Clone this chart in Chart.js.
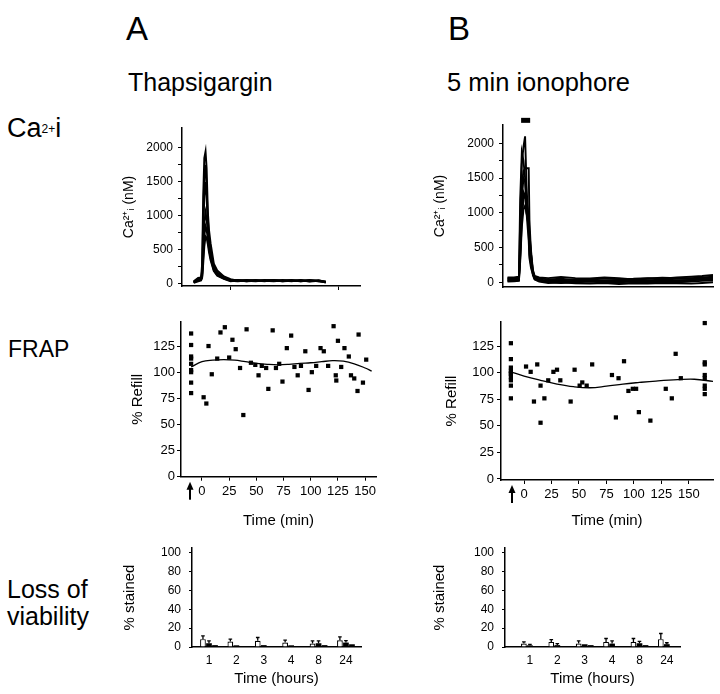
<!DOCTYPE html>
<html>
<head>
<meta charset="utf-8">
<script src="https://cdn.jsdelivr.net/npm/chart.js@4.4.1/dist/chart.umd.min.js"></script>
<style>
  body { margin: 0; background: #fff; width: 720px; height: 694px; position: relative; overflow: hidden;
         font-family: "Liberation Sans", Arial, Helvetica, sans-serif; color: #000; }
  .t { position: absolute; white-space: nowrap; line-height: 1; }
  canvas { position: absolute; }
</style>
</head>
<body>
<div class="t" style="left:126px;top:12px;font-size:33px">A</div>
<div class="t" style="left:448px;top:12px;font-size:33px">B</div>
<div class="t" style="left:128px;top:70px;font-size:25px">Thapsigargin</div>
<div class="t" style="left:447px;top:70px;font-size:25.5px">5 min ionophore</div>

<div class="t" style="left:7px;top:115px;font-size:27px">Ca<span style="font-size:12px;vertical-align:4px">2+</span>i</div>
<div class="t" style="left:8px;top:338px;font-size:23px">FRAP</div>
<div class="t" style="left:7px;top:576px;font-size:25px;line-height:27px">Loss of<br>viability</div>

<canvas id="caA" width="270" height="200" style="left:100px;top:118px"></canvas>
<canvas id="caB" width="310" height="200" style="left:410px;top:115px"></canvas>
<canvas id="frapA" width="290" height="222" style="left:100px;top:312px"></canvas>
<canvas id="frapB" width="310" height="222" style="left:410px;top:312px"></canvas>
<canvas id="viaA" width="270" height="152" style="left:100px;top:540px"></canvas>
<canvas id="viaB" width="280" height="152" style="left:410px;top:540px"></canvas>

<script>
// ── Data ─────────────────────────────────────────────────────────────────────

// Ca2+i traces (nM) vs time (min). A: thapsigargin, B: 5 min ionophore.
const caTimesA = [-20.5, -18, -16.4, -15.8, -15.2, -14.6, -13.9, -13.3, -12.6, -12, -11.1, -9.3, -7.4,
                  -3.7, 0, 4, 9, 14, 19, 24, 29, 34, 39, 44, 49, 53];
const caA1 = [20, 80, 85, 300, 1300, 1850, 1950, 1700, 1050, 800, 600, 300, 200, 110, 70, 50, 60, 45, 60, 50, 40, 55, 45, 60, 40, 35];
const caA2 = [30, 70, 80, 200, 1000, 1600, 1750, 1400, 950, 700, 500, 260, 170, 100, 60, 55, 40, 60, 45, 55, 50, 40, 60, 45, 50, 30];
const caA3 = [40, 90, 95, 150, 700, 1300, 1500, 1250, 850, 650, 470, 240, 160, 90, 55, 45, 55, 50, 40, 60, 45, 50, 40, 55, 45, 35];
const caA4 = [25, 60, 70, 120, 500, 900, 1050, 950, 750, 580, 420, 220, 140, 85, 50, 60, 45, 40, 55, 45, 60, 45, 50, 40, 55, 30];
const caA5 = [30, 50, 60, 100, 400, 700, 850, 800, 650, 520, 380, 200, 130, 80, 45, 40, 50, 55, 45, 40, 50, 60, 40, 50, 40, 25];
const caA6 = [15, 40, 50, 90, 300, 550, 700, 680, 580, 470, 350, 190, 120, 75, 40, 50, 40, 45, 50, 55, 40, 45, 55, 35, 45, 20];
const caTickTimesA = [0, 60];

const caTimesB = [-7.5, -4, -1.2, -0.5, 0.4, 1.3, 2.2, 3, 4.2, 4.6, 5.5, 6.5, 7.5, 10, 15, 22, 30, 38, 46,
                  54, 62, 70, 78, 86, 94, 100, 106];
const caB1 = [60, 60, 70, 900, 1700, 1950, 2100, 1400, 700, 400, 250, 150, 80, 60, 40, 50, 30, 40, 55, 45, 50, 60, 50, 70, 80, 90, 105];
const caB2 = [50, 50, 60, 1200, 1870, 1750, 1500, 1000, 600, 350, 200, 120, 70, 40, 20, 30, 40, 30, 20, 35, 30, 25, 40, 50, 60, 70, 80];
const caB3 = [40, 40, 50, 600, 1400, 1600, 1640, 1640, 1640, 900, 400, 150, 60, 30, 10, 20, 5, 15, 10, 20, 0, 10, 20, 15, 30, 40, 50];
const caB4 = [30, 30, 40, 500, 1200, 1500, 1450, 1200, 900, 600, 350, 120, 50, 20, 0, -10, 0, 10, -5, 0, 10, -5, 5, 0, 10, 20, 30];
const caB5 = [20, 25, 30, 400, 1000, 1300, 1250, 1000, 800, 500, 300, 100, 40, 10, -10, 0, -15, -20, -10, -25, -15, -20, -10, -15, -20, -10, 0];
const caB6 = [70, 70, 80, 350, 900, 1200, 1250, 1150, 950, 700, 450, 180, 90, 70, 60, 75, 60, 55, 70, 60, 40, 55, 65, 60, 50, 60, 65];
const caB7 = [10, 15, 20, 300, 800, 1050, 1100, 1000, 850, 650, 400, 160, 50, 20, 30, 10, 20, 30, 25, 30, 40, 30, 20, 30, 35, 40, 45];
const ionophoreTimes = [0, 5];
const ionophoreLevel = 2330;

const caTicks = [0, 250, 500, 750, 1000, 1250, 1500, 1750, 2000];

// FRAP % refill vs time (min); the arrow marks the photobleach.
const frapTimesA = [-10, -10, -10, -10, -10, -10, -10, -10, -10,
  1.5, 4, 6, 9, 14, 17, 21, 25, 28, 31, 35, 38, 41, 45, 49, 52, 55, 59, 61, 65, 68, 71, 74, 78, 82, 85,
  88, 91, 95, 98, 101, 105, 109, 112, 116, 121, 123, 123.5, 125, 128, 131, 135, 137, 140, 143, 144, 148, 151];
const frapRefillA = [137, 126, 115, 113, 108, 102, 100, 90, 80,
  76, 70, 125, 98, 113, 138, 143, 114, 131, 122, 104, 59, 141, 109, 107, 97, 106, 104, 84, 140, 104,
  108, 91, 123, 135, 105, 97, 106, 120, 83, 100, 106, 123, 120, 106, 144, 97, 92, 130, 105, 123, 115,
  97, 94, 82, 136, 90, 112];
const fitTimesA = [-10, 0, 10, 20, 30, 40, 50, 60, 70, 80, 90, 100, 110, 120, 130, 140, 150, 156];
const fitA = [105, 110, 111.5, 112, 111.5, 110, 108.5, 107.5, 107, 107.5, 108.5, 109, 110, 111, 110.5, 108, 104, 101];
const arrowTimeA = -11;

const frapTimesB = [-12, -12, -12, -12, -12, -12, -12, -12, -12, -12,
  1.8, 6, 9, 12, 15, 15, 18.5, 22, 26.7, 30, 33, 42.4, 46, 50.6, 53, 57, 62, 80, 83.6, 86, 91, 95, 99,
  102, 104.5, 115, 129, 134.5, 138, 142.7,
  164.5, 164.5, 164.5, 164.5, 164.5, 164.5, 164.5, 164.5];
const frapRefillB = [128, 113, 105, 102, 100, 99, 96, 93, 88, 76,
  106, 101, 73, 108, 53, 88, 76, 93, 101, 103, 93, 73, 103, 88, 91, 88, 108, 98, 58, 95, 111, 83, 85,
  85, 63, 55, 85, 76, 118, 95,
  147, 110, 108, 98, 95, 88, 85, 80];
const fitTimesB = [-12, 0, 15, 30, 45, 60, 75, 90, 105, 120, 140, 155, 172];
const fitB = [101, 97, 93, 89.5, 87, 86, 87.5, 89.5, 91, 92.3, 93.6, 94, 92];
const arrowTimeB = -11;

const frapYTicks = [0, 25, 50, 75, 100, 125];
const frapXTicks = [0, 25, 50, 75, 100, 125, 150];

// Loss of viability: % stained at each time point (three bars per group).
const hourPositions = [1, 2, 3, 4, 5, 6];
const hourLabels = ['1', '2', '3', '4', '8', '24'];
const openA = [8.3, 5.8, 6.5, 4.7, 3.6, 7.2];
const openAErr = [3.6, 2.5, 3.6, 2.5, 2.9, 3.6];
const midA = [4, 1.8, 2, 1.8, 4, 4.7];
const midAErr = [2.5, 0, 0, 0, 2.5, 2];
const lowA = [2, 1, 1, 0.5, 2, 2.9];
const openB = [3.6, 5.4, 3.6, 5.4, 5.4, 8.3];
const openBErr = [1.8, 2.5, 2.9, 3.6, 3.6, 6];
const midB = [1.8, 2, 2.9, 3.6, 4, 3];
const midBErr = [1, 1.5, 0, 2.9, 2, 1.5];
const lowB = [1, 0.5, 2, 1, 2, 1];
const stainTicks = [0, 20, 40, 60, 80, 100];

// ── Shared styling ──────────────────────────────────────────────────────────

const FONT = '"Liberation Sans", Arial, Helvetica, sans-serif';
Chart.defaults.font.family = FONT;
Chart.defaults.color = '#000';
Chart.defaults.animation = false;
Chart.defaults.events = [];
Chart.defaults.plugins.legend.display = false;
Chart.defaults.plugins.tooltip.enabled = false;

const CA_TITLE = 'Ca\u00B2\u207A\u1D62 (nM)';

function xy(xs, ys) {
  return xs.map((x, i) => ({ x, y: ys[i] }));
}

function fixedTicks(values) {
  return (scale) => { scale.ticks = values.map((v) => ({ value: v })); };
}

// Axis with a fixed box size (and no label overhang padding) so every plot
// area lands exactly where the figure has it.
function axis(o) {
  return {
    type: 'linear',
    min: o.min,
    max: o.max,
    offset: false,
    afterBuildTicks: fixedTicks(o.ticks),
    afterFit: (s) => {
      if (o.width != null) s.width = o.width;
      if (o.height != null) s.height = o.height;
      s.paddingTop = 0;
      s.paddingBottom = 0;
      s.paddingLeft = 0;
      s.paddingRight = 0;
    },
    border: { color: '#000', width: 1.5 },
    grid: { display: o.marks !== false, offset: false, drawOnChartArea: false, color: '#000', tickLength: o.tickLength || 4 },
    ticks: {
      display: o.labels !== false,
      autoSkip: false,
      maxRotation: 0,
      padding: o.pad ?? 3,
      font: { size: o.fontSize || 12 },
      callback: o.format || ((v) => String(v)),
    },
    title: o.title
      ? { display: true, text: o.title, font: { size: o.titleSize || 15 }, padding: { top: 4, bottom: 4 } }
      : { display: false },
  };
}

function trace(xs, ys) {
  return { data: xy(xs, ys), borderColor: '#000', borderWidth: 1.9, pointRadius: 0, tension: 0 };
}

// Short up-arrow under the time axis where the bleach happened.
const arrowPlugin = {
  id: 'bleachArrow',
  afterDraw(chart, _args, opts) {
    if (opts.at == null) return;
    const { ctx, scales: { x } } = chart;
    const px = x.getPixelForValue(opts.at);
    const tip = x.top + 5;
    const tail = x.top + 23;
    ctx.save();
    ctx.strokeStyle = '#000';
    ctx.fillStyle = '#000';
    ctx.lineWidth = 2;
    ctx.beginPath();
    ctx.moveTo(px, tail);
    ctx.lineTo(px, tip + 6);
    ctx.stroke();
    ctx.beginPath();
    ctx.moveTo(px, tip);
    ctx.lineTo(px - 3.5, tip + 8);
    ctx.lineTo(px + 3.5, tip + 8);
    ctx.closePath();
    ctx.fill();
    ctx.restore();
  },
};

// One-sided error bars on top of each bar (dataset.errors).
const errorBarPlugin = {
  id: 'errorBars',
  afterDatasetsDraw(chart) {
    const { ctx } = chart;
    const yScale = chart.scales.y;
    chart.data.datasets.forEach((ds, i) => {
      if (!ds.errors) return;
      chart.getDatasetMeta(i).data.forEach((bar, j) => {
        const err = ds.errors[j];
        if (!err) return;
        const top = yScale.getPixelForValue(ds.data[j].y + err);
        ctx.save();
        ctx.strokeStyle = '#000';
        ctx.lineWidth = 1.3;
        ctx.beginPath();
        ctx.moveTo(bar.x, bar.y);
        ctx.lineTo(bar.x, top);
        ctx.moveTo(bar.x - 1.8, top);
        ctx.lineTo(bar.x + 1.8, top);
        ctx.stroke();
        ctx.restore();
      });
    });
  },
};

// ── Ca2+i traces ────────────────────────────────────────────────────────────

new Chart(document.getElementById('caA'), {
  type: 'line',
  data: {
    datasets: [caA6, caA5, caA4, caA3, caA2, caA1].map((ys) => trace(caTimesA, ys)),
  },
  options: {
    responsive: false,
    layout: { padding: { left: 16.6, right: 10, top: 10, bottom: 0 } },
    scales: {
      x: axis({ min: -27, max: 72, ticks: caTickTimesA, height: 32, labels: false }),
      y: axis({ min: -30, max: 2294, ticks: caTicks, width: 65.4, pad: 5, fontSize: 12, title: CA_TITLE, titleSize: 14,
                format: (v) => (v % 500 === 0 ? String(v) : '') }),
    },
  },
});

new Chart(document.getElementById('caB'), {
  type: 'line',
  data: {
    datasets: [
      ...[caB7, caB6, caB5, caB4, caB3, caB2, caB1].map((ys) => trace(caTimesB, ys)),
      { data: xy(ionophoreTimes, [ionophoreLevel, ionophoreLevel]), borderColor: '#000', borderWidth: 5,
        pointRadius: 0, clip: false },
    ],
  },
  options: {
    responsive: false,
    layout: { padding: { left: 17.6, right: 7, top: 10, bottom: 0 } },
    scales: {
      x: axis({ min: -10, max: 106, ticks: [], height: 28, labels: false, marks: false }),
      y: axis({ min: -68, max: 2263, ticks: caTicks, width: 75.4, pad: 5, fontSize: 12, title: CA_TITLE, titleSize: 14,
                format: (v) => (v % 500 === 0 ? String(v) : '') }),
    },
  },
});

// ── FRAP ────────────────────────────────────────────────────────────────────

function frapDatasets(times, refill, fitTimes, fit) {
  return [
    { type: 'scatter', data: xy(times, refill), pointStyle: 'rect', pointRadius: 3,
      backgroundColor: '#000', borderWidth: 0, clip: false },
    { type: 'line', data: xy(fitTimes, fit), borderColor: '#000', borderWidth: 1.3,
      pointRadius: 0, tension: 0.4 },
  ];
}

new Chart(document.getElementById('frapA'), {
  type: 'scatter',
  plugins: [arrowPlugin],
  data: { datasets: frapDatasets(frapTimesA, frapRefillA, fitTimesA, fitA) },
  options: {
    responsive: false,
    layout: { padding: { left: 25, right: 14, top: 10, bottom: 0 } },
    plugins: { bleachArrow: { at: arrowTimeA } },
    scales: {
      x: axis({ min: -19.3, max: 160, ticks: frapXTicks, height: 57.3, pad: 3, fontSize: 13, title: 'Time (min)' }),
      y: axis({ min: 0, max: 148, ticks: frapYTicks, width: 56, pad: 2, fontSize: 13, title: '% Refill' }),
    },
  },
});

new Chart(document.getElementById('frapB'), {
  type: 'scatter',
  plugins: [arrowPlugin],
  data: { datasets: frapDatasets(frapTimesB, frapRefillB, fitTimesB, fitB) },
  options: {
    responsive: false,
    layout: { padding: { left: 29, right: 7, top: 10, bottom: 0 } },
    plugins: { bleachArrow: { at: arrowTimeB } },
    scales: {
      x: axis({ min: -21, max: 172, ticks: frapXTicks, height: 54, pad: 3, fontSize: 13, title: 'Time (min)' }),
      y: axis({ min: -1, max: 148, ticks: frapYTicks, width: 62, pad: 3, fontSize: 13, title: '% Refill' }),
    },
  },
});

// ── Loss of viability ───────────────────────────────────────────────────────

function viabilityDatasets(open, openErr, mid, midErr, low) {
  return [
    { data: xy(hourPositions, open), errors: openErr, backgroundColor: '#fff', borderColor: '#000', borderWidth: 1.2 },
    { data: xy(hourPositions, mid), errors: midErr, backgroundColor: '#000', borderColor: '#000', borderWidth: 0 },
    { data: xy(hourPositions, low), backgroundColor: '#000', borderColor: '#000', borderWidth: 0 },
  ];
}

function viabilityOptions(xMin, xMax, padLeft, yWidth, padRight) {
  return {
    responsive: false,
    layout: { padding: { left: padLeft, right: padRight, top: 8, bottom: 0 } },
    datasets: { bar: { categoryPercentage: 0.66, barPercentage: 0.95 } },
    scales: {
      x: axis({ min: xMin, max: xMax, ticks: hourPositions, height: 45, pad: 2, fontSize: 12, marks: false,
                title: 'Time (hours)', format: (v) => hourLabels[hourPositions.indexOf(v)] }),
      y: axis({ min: 0, max: 105, ticks: stainTicks, width: yWidth, pad: 8, fontSize: 12, tickLength: 3,
                title: '% stained' }),
    },
  };
}

new Chart(document.getElementById('viaA'), {
  type: 'bar',
  plugins: [errorBarPlugin],
  data: { datasets: viabilityDatasets(openA, openAErr, midA, midAErr, lowA) },
  options: viabilityOptions(0.38, 6.55, 17, 75, 9),
});

new Chart(document.getElementById('viaB'), {
  type: 'bar',
  plugins: [errorBarPlugin],
  data: { datasets: viabilityDatasets(openB, openBErr, midB, midBErr, lowB) },
  options: viabilityOptions(0.09, 6.48, 17, 78, 10),
});
</script>
</body>
</html>
